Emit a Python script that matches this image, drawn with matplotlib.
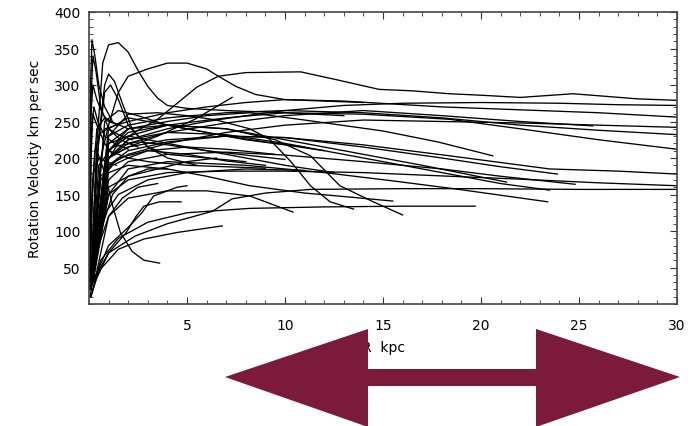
import matplotlib
matplotlib.use('Agg')
from matplotlib import pyplot as plt
from matplotlib.patches import Polygon
from matplotlib.ticker import MultipleLocator

# rotation curves: (radius kpc, velocity km/s)
peakCurves = [
    ([0.1, 0.4, 0.7, 1.0, 1.5, 2.0, 2.5, 3.0, 3.5, 4.0, 5, 7, 10, 13],
     [30, 220, 330, 355, 358, 345, 320, 298, 282, 272, 268, 265, 262, 258]),
    ([0.2, 0.6, 1.0, 1.5, 2.0, 3, 4, 5, 6, 6.6, 7.5, 8.5, 10, 12, 14],
     [60, 200, 245, 290, 312, 322, 330, 330, 322, 312, 298, 287, 280, 278, 276]),
    ([0.1, 0.5, 0.8, 1.0, 1.3, 1.7, 2.2, 3, 4, 6, 8],
     [30, 230, 300, 315, 305, 275, 240, 215, 205, 200, 195]),
    ([0.1, 0.4, 0.8, 1.1, 1.5, 2, 3, 4, 5.5],
     [20, 200, 290, 300, 280, 245, 215, 200, 190]),
    ([0.02, 0.08, 0.15, 0.3, 0.5, 0.8, 1.2],
     [50, 300, 362, 340, 300, 270, 250]),
    ([0.02, 0.1, 0.2, 0.4, 0.7, 1.0, 1.5],
     [80, 260, 300, 280, 260, 250, 245]),
    ([0.03, 0.1, 0.2, 0.35, 0.6, 1.0, 1.6, 2.5],
     [60, 280, 340, 320, 270, 240, 225, 215]),
    ([0.03, 0.12, 0.25, 0.45, 0.8, 1.3, 2.0],
     [40, 240, 270, 250, 230, 220, 212]),
]

longCurves = [
    ([0.2, 0.8, 1.5, 2.5, 3.5, 4.5, 5.5, 6.6, 8, 10.8, 12.5, 14.8, 16.5, 18.4, 20, 22, 24.7, 28, 30],
     [50, 190, 220, 238, 253, 275, 297, 312, 317, 318, 308, 294, 292, 288, 286, 283, 288, 281, 279]),
    ([0.2, 1, 2, 4, 6, 8, 10, 13, 16, 20, 24, 27, 30],
     [60, 200, 225, 240, 250, 258, 265, 272, 275, 276, 275, 273, 272]),
    ([0.1, 0.8, 2, 4, 6, 8, 10, 13, 18, 22, 26, 30],
     [40, 240, 250, 262, 270, 276, 280, 278, 270, 266, 262, 256]),
    ([0.2, 1, 2, 4, 7, 10, 14, 18, 22, 26, 30],
     [50, 190, 205, 220, 235, 245, 252, 250, 248, 245, 242]),
    ([0.2, 1, 2, 4, 7, 10, 14, 18, 22, 26, 30],
     [40, 230, 245, 255, 262, 265, 262, 255, 245, 238, 232]),
    ([0.2, 1, 2, 4, 7, 10, 14, 18.4, 22, 26, 30],
     [50, 210, 230, 245, 255, 262, 260, 253, 240, 225, 212]),
    ([0.2, 1, 2, 4, 7, 10, 14, 18.4, 23.5, 27, 30],
     [40, 200, 215, 225, 230, 228, 218, 203, 185, 182, 178]),
    ([0.2, 1, 2, 4, 7, 10, 14, 18.4, 22, 26, 30],
     [30, 150, 170, 180, 182, 182, 180, 175, 171, 166, 162]),
    ([0.15, 1, 2.35, 4, 6.3, 7.3, 9, 11.3, 16, 20, 25, 30],
     [30, 70, 93, 110, 127, 144, 152, 157, 158, 158, 157, 157]),
]

midCurves = [
    ([0.2, 1, 2, 4, 7, 10, 14, 18, 21, 23.9],
     [40, 190, 210, 222, 230, 228, 215, 200, 188, 178]),
    ([0.2, 1, 2, 4, 7, 10, 14, 18, 21, 24.8],
     [30, 170, 195, 205, 208, 204, 195, 185, 175, 164]),
    ([0.2, 1, 2, 4, 7, 10, 14, 18, 21, 23.5],
     [40, 200, 225, 235, 232, 220, 200, 180, 165, 156]),
    ([0.2, 1, 2, 4, 7, 10, 14, 17, 21.3],
     [50, 220, 240, 245, 240, 225, 205, 190, 167]),
    ([0.2, 1, 2, 4, 7, 10, 14, 18, 22, 25.7],
     [40, 200, 220, 235, 248, 258, 265, 258, 250, 244]),
    ([0.2, 1, 2, 4, 6, 8.2, 11, 15, 17.8, 20.6],
     [50, 210, 240, 250, 258, 262, 252, 237, 222, 203]),
    ([0.2, 1, 2, 4, 8, 12, 15.4, 18.6, 23.4],
     [40, 150, 185, 195, 190, 180, 169, 158, 140]),
    ([0.1, 0.6, 1.5, 3, 5, 8.2, 12, 16, 19.7],
     [10, 60, 90, 112, 125, 131, 133, 134, 134]),
    ([0.2, 1, 2, 3.5, 5, 6.5, 8.2, 9.2, 10.3, 11.3, 12.3, 13.5],
     [50, 230, 260, 262, 258, 252, 240, 226, 195, 162, 140, 130]),
    ([0.2, 1, 2, 4, 7, 9.5, 11.3, 12.8, 14.5, 16],
     [40, 210, 235, 245, 240, 225, 203, 162, 140, 122]),
    ([0.2, 1, 2, 4, 6, 8.2, 11, 13.5, 15.5],
     [30, 180, 190, 185, 175, 162, 152, 146, 141]),
    ([0.2, 1, 2, 4, 6, 8.2, 10.4],
     [20, 120, 145, 155, 155, 148, 126]),
    ([0.2, 1, 2, 4, 6, 8, 10, 12.5],
     [40, 220, 230, 220, 210, 200, 190, 180]),
    ([0.1, 0.7, 1.5, 3, 5, 8, 11],
     [20, 120, 150, 170, 180, 185, 183]),
    ([0.2, 1, 2, 3, 5, 7, 9, 11],
     [50, 240, 255, 250, 240, 230, 222, 215]),
    ([0.2, 0.8, 1.5, 2.5, 4, 6, 8, 10, 12],
     [60, 250, 265, 258, 245, 235, 225, 218, 210]),
    ([0.1, 0.5, 1.2, 2.5, 4, 6, 8, 10],
     [30, 190, 215, 222, 218, 210, 204, 198]),
    ([0.1, 0.6, 1.5, 3, 5, 7, 9],
     [20, 175, 200, 210, 205, 196, 190]),
]

shortCurves = [
    ([0.2, 1, 2, 3.5, 5.4, 7.3],
     [40, 200, 215, 230, 253, 283]),
    ([0.2, 1, 2, 3, 5, 7, 9],
     [40, 210, 200, 195, 190, 188, 186]),
    ([0.1, 0.6, 1.2, 2, 3, 5, 7, 9.5],
     [30, 170, 190, 200, 210, 215, 212, 205]),
    ([0.2, 1, 2, 3.5, 5, 6.5],
     [40, 160, 175, 185, 195, 200]),
    ([0.1, 0.4, 0.8, 1.2, 1.6, 2.2, 2.8, 3.6],
     [40, 210, 180, 135, 98, 72, 60, 56]),
    ([0.3, 1.0, 1.9, 2.4, 2.8, 3.6, 4.7],
     [30, 70, 98, 120, 134, 140, 140]),
    ([0.2, 1.0, 2.0, 2.7, 3.3, 4.0, 4.5, 5.0],
     [30, 80, 105, 125, 148, 155, 160, 162]),
    ([0.1, 0.5, 1.5, 2.8, 4.5, 6.8],
     [10, 45, 75, 89, 98, 107]),
    ([0.1, 0.6, 1.2, 2, 3, 4],
     [20, 100, 150, 175, 185, 185]),
    ([0.05, 0.5, 1.0, 1.7, 2.5, 3.5],
     [10, 80, 120, 145, 160, 165]),
    ([0.05, 0.15, 0.3, 0.6, 1.0, 1.5, 2.2],
     [20, 150, 210, 235, 240, 232, 225]),
    ([0.05, 0.2, 0.4, 0.8, 1.3, 2.0],
     [30, 170, 240, 255, 248, 240]),
    ([0.02, 0.1, 0.25, 0.5, 0.9, 1.4],
     [20, 120, 180, 200, 195, 190]),
    ([0.03, 0.1, 0.2, 0.4, 0.8, 1.2],
     [40, 200, 260, 245, 220, 205]),
]

xTicks = [5, 10, 15, 20, 25, 30]
yTicks = [50, 100, 150, 200, 250, 300, 350, 400]

plt.rcParams['font.family'] = ['DejaVu Sans']
fig = plt.figure(figsize=(6.98, 4.27), dpi=100)
ax = fig.add_axes([89 / 698, 122 / 427, 588 / 698, 292 / 427])

for r, v in peakCurves + longCurves + midCurves + shortCurves:
    ax.plot(r, v, color='black', lw=0.95)

ax.set_xlim(0, 30)
ax.set_ylim(0, 400)
ax.set_xticks(xTicks)
ax.set_yticks(yTicks)
ax.xaxis.set_minor_locator(MultipleLocator(1))
ax.yaxis.set_minor_locator(MultipleLocator(10))
ax.tick_params(which='both', direction='in', top=True, right=True,
               labelsize=10, color='#333333')
ax.tick_params(which='major', length=5)
ax.tick_params(which='minor', length=3)
ax.tick_params(axis='x', pad=10)
ax.tick_params(axis='y', pad=6)
for s in ax.spines.values():
    s.set_color('#444444')
    s.set_linewidth(1.2)
ax.set_ylabel('Rotation Velocity km per sec', fontsize=10, labelpad=9)
ax.set_xlabel('R  kpc', fontsize=10, labelpad=6)

# big double arrow drawn over the bottom of the figure (pixel coords)
arrowPx = [(225, 378), (368, 330), (368, 370), (536, 370), (536, 330),
           (680, 378), (536, 428), (536, 387), (368, 387), (368, 428)]
arrowFig = [(x / 698, 1 - y / 427) for x, y in arrowPx]
fig.patches.append(Polygon(arrowFig, closed=True, transform=fig.transFigure,
                           facecolor='#7b1a3b', edgecolor='none', zorder=10))

fig.savefig('out.png', dpi=100)
